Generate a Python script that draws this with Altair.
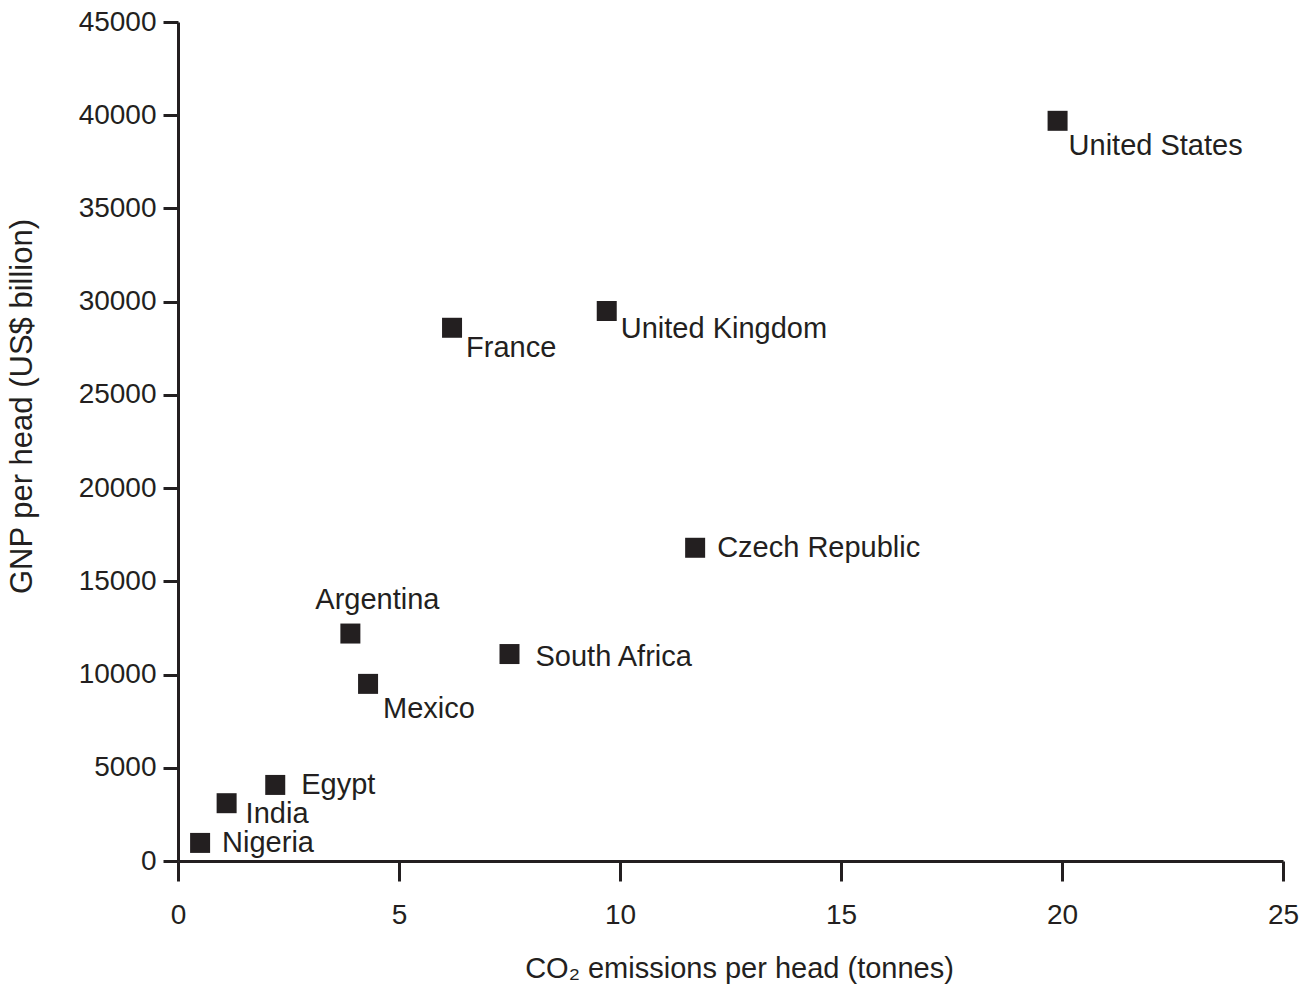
import altair as alt
import pandas as pd

countries = ["United States", "United Kingdom", "France", "Czech Republic", "Argentina",
             "South Africa", "Mexico", "Egypt", "India", "Nigeria"]
co2 = [19.9, 9.7, 6.2, 11.7, 3.9, 7.5, 4.3, 2.2, 1.1, 0.5]
gnp = [39700, 29500, 28600, 16800, 12200, 11100, 9500, 4080, 3100, 970]

x_ticks = [0, 5, 10, 15, 20, 25]
y_ticks = [0, 5000, 10000, 15000, 20000, 25000, 30000, 35000, 40000, 45000]

df = pd.DataFrame({"country": countries, "co2": co2, "gnp": gnp})

INK = "#231f20"
FONT = "Liberation Sans"

# label placement styles (pixel offsets, alignment) per country
label_style = {
    "United States": (11, 25, "left"),
    "United Kingdom": (14, 18, "left"),
    "France": (14, 20, "left"),
    "Czech Republic": (22, 0, "left"),
    "Argentina": (27, -34, "center"),
    "South Africa": (26, 3, "left"),
    "Mexico": (15, 25, "left"),
    "Egypt": (26, 0, "left"),
    "India": (19, 11, "left"),
    "Nigeria": (22, 0, "left"),
}

xenc = alt.X("co2:Q", scale=alt.Scale(domain=[0, 25], nice=False),
             axis=alt.Axis(values=x_ticks, title="CO₂ emissions per head (tonnes)",
                           format="d", tickSize=20, labelPadding=20, titleFontSize=29,
                           titleX=561, titleY=107, titleBaseline="middle"))
yenc = alt.Y("gnp:Q", scale=alt.Scale(domain=[0, 45000], nice=False),
             axis=alt.Axis(values=y_ticks, title="GNP per head (US$ billion)",
                           format="d", tickSize=15, labelPadding=7, titleFontSize=31,
                           titleX=-156, titleY=384, titleBaseline="middle",
                           titleAlign="center"))

base = alt.Chart(df)
points = base.mark_point(shape="square", size=400, filled=True, color=INK, opacity=1,
                         strokeWidth=0).encode(x=xenc, y=yenc)

layers = [points]
for name, (dx, dy, align) in label_style.items():
    layers.append(
        base.transform_filter(alt.datum.country == name)
        .mark_text(dx=dx, dy=dy, align=align, baseline="middle", font=FONT,
                   fontSize=29, color=INK)
        .encode(x="co2:Q", y="gnp:Q", text="country:N")
    )

chart = alt.layer(*layers).properties(
    width=1105, height=839,
    autosize=alt.AutoSizeParams(type="none"),
    padding={"left": 170, "top": 14, "right": 20, "bottom": 130},
    background="white",
).configure_view(stroke=None).configure_axis(
    grid=False, domainColor=INK, domainWidth=3, tickColor=INK, tickWidth=3,
    labelFont=FONT, labelFontSize=28, labelColor=INK,
    titleFont=FONT, titleColor=INK, titleFontWeight="normal",
    labelFlush=False, labelOverlap=False,
)

chart.save("out.html", embed_options={"renderer": "svg", "actions": False})
